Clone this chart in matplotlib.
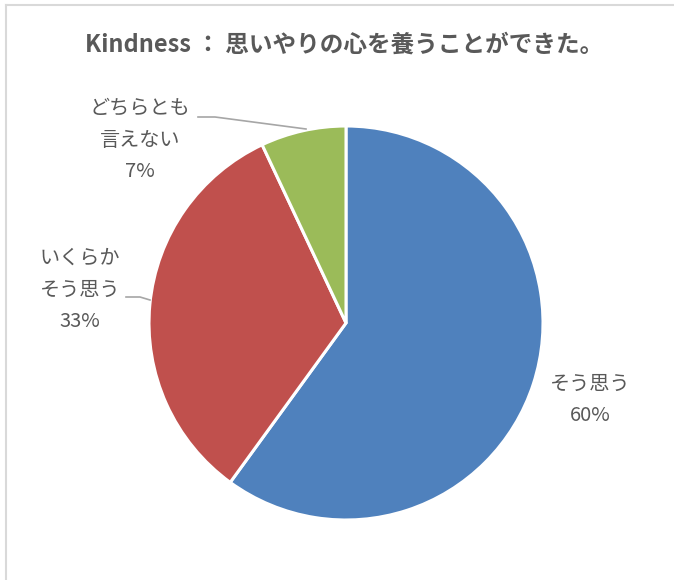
import matplotlib; matplotlib.use('Agg')
import matplotlib.pyplot as plt
from matplotlib.lines import Line2D

plt.rcParams['font.family'] = ['Noto Sans CJK JP', 'DejaVu Sans']

W, H = 674, 580
TXT = '#595959'

categories = ['そう思う', 'いくらか\nそう思う', 'どちらとも\n言えない']
values = [60, 33, 7]
colors = ['#4F81BD', '#C0504D', '#9BBB59']
title = 'Kindness ： 思いやりの心を養うことができた。'

fig = plt.figure(figsize=(W/100, H/100), dpi=100)

def fx(px): return px / W
def fy(py): return 1 - py / H

# chart frame (only left and top edges visible in the crop)
fig.add_artist(Line2D([fx(6), fx(6)], [fy(5), 0], color='#D9D9D9', lw=1.5))
fig.add_artist(Line2D([fx(6), 1], [fy(5), fy(5)], color='#D9D9D9', lw=1.5))

cx, cy, r = 346, 323, 197
ax = fig.add_axes([fx(cx - r), fy(cy + r), 2*r/W, 2*r/H])
ax.pie(values, colors=colors, startangle=90, counterclock=False, radius=1,
       wedgeprops=dict(edgecolor='white', linewidth=2.2))
ax.set_xlim(-1, 1); ax.set_ylim(-1, 1)
ax.axis('off')

fig.text(fx(344), fy(45), title, ha='center', va='center', fontsize=17,
         fontweight='bold', color=TXT)

# data labels: category + percent
lab_pos = [(590, 400), (80, 290), (140, 140)]
for (px, py), c, v in zip(lab_pos, categories, values):
    fig.text(fx(px), fy(py), f'{c}\n{v}%', ha='center', va='center', fontsize=14.5,
             color=TXT, linespacing=1.68)

# leader lines
fig.add_artist(Line2D([fx(126), fx(140), fx(150)], [fy(297), fy(297), fy(300)], color='#A6A6A6', lw=1.2))
fig.add_artist(Line2D([fx(198), fx(215), fx(306)], [fy(117), fy(117), fy(129)], color='#A6A6A6', lw=1.2))

fig.savefig('out.png', dpi=100)
